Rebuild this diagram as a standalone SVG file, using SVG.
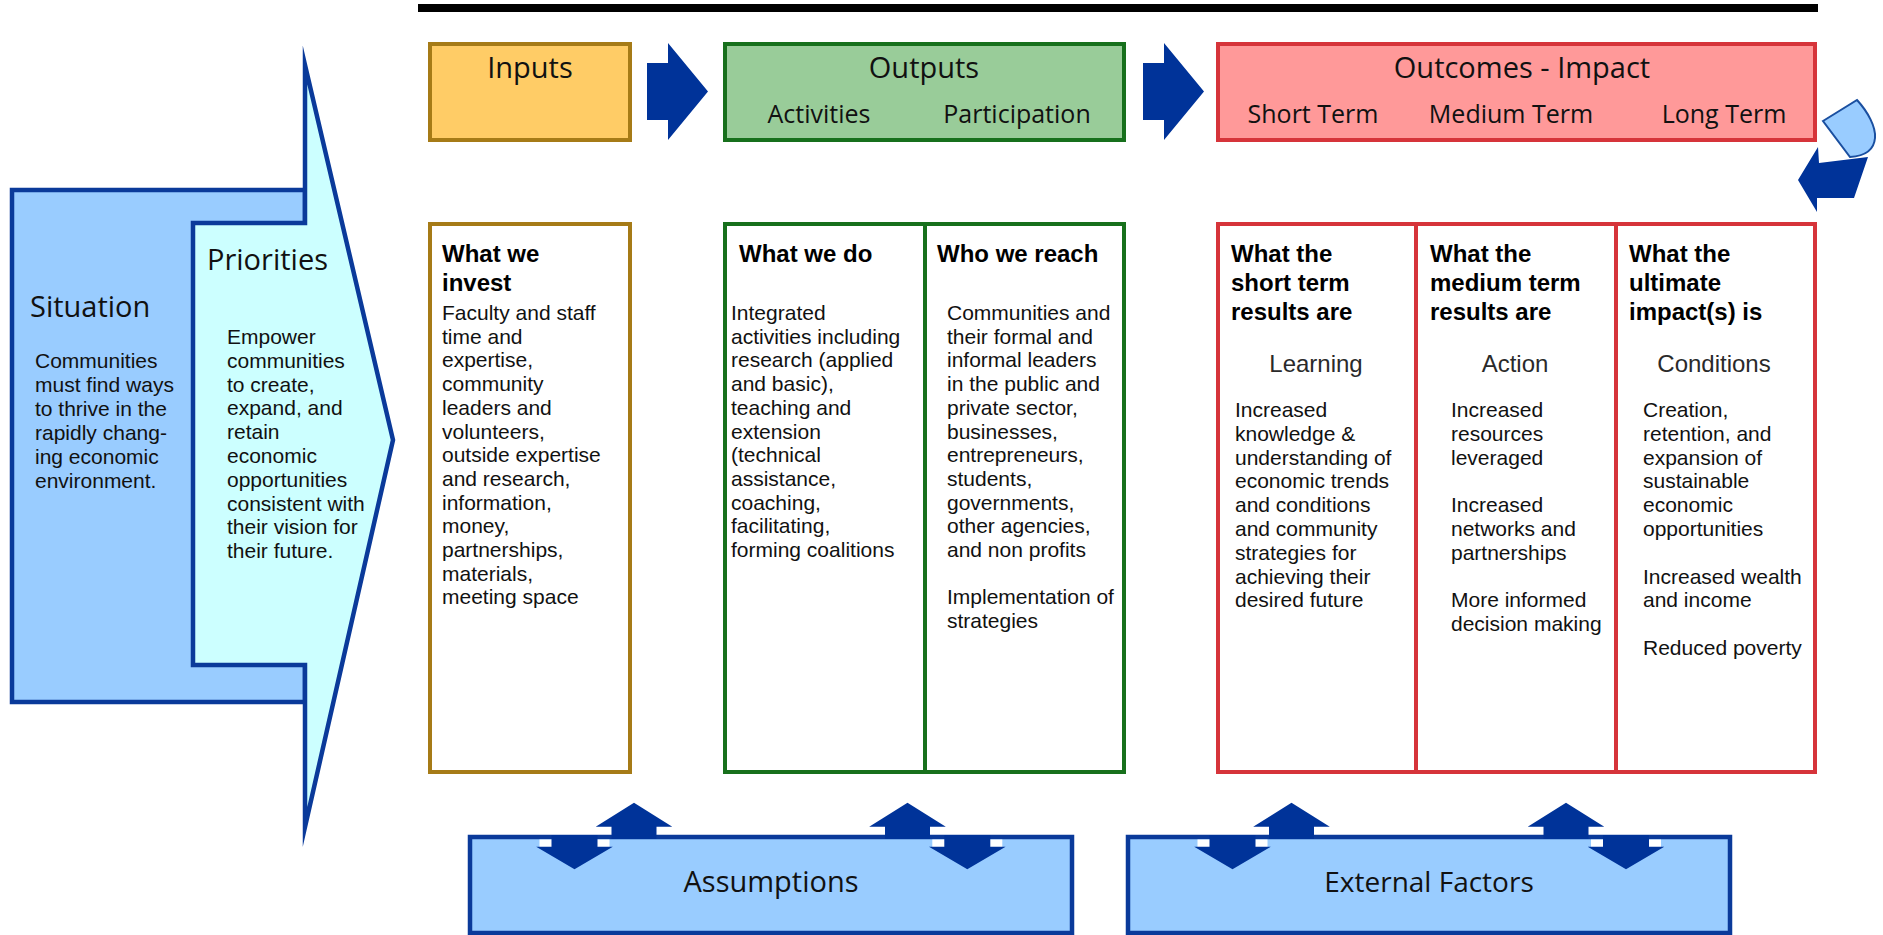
<svg xmlns="http://www.w3.org/2000/svg" width="1883" height="935" viewBox="0 0 1883 935">
<style>
.h{font-family:"Open Sans","Noto Sans",sans-serif;fill:#111}
.h29{font-size:29px}
.h25{font-size:25px}
.b{font-family:"Liberation Sans",Arial,sans-serif;font-size:21px;fill:#111}
.bh{font-family:"Liberation Sans",Arial,sans-serif;font-size:24px;font-weight:bold;fill:#000}
.sub{font-family:"Liberation Sans",Arial,sans-serif;font-size:24px;fill:#2a2a2a;text-anchor:middle}
.mid{text-anchor:middle}
.inp{fill:#FFCC66;stroke:#A67B17;stroke-width:4}
.out{fill:#99CC99;stroke:#17701C;stroke-width:4}
.res{fill:#FF9999;stroke:#D6343A;stroke-width:4}
.inpL{fill:#fff;stroke:#A67B17;stroke-width:4}
.outL{fill:#fff;stroke:#17701C;stroke-width:4}
.resL{fill:#fff;stroke:#D6343A;stroke-width:4}
.blue{fill:#99CCFF;stroke:#0A3A9A;stroke-width:4.5}
.cyan{fill:#CCFFFF;stroke:#0A3A9A;stroke-width:4.5;stroke-linejoin:miter;stroke-miterlimit:20}
.arr{fill:#003399}
</style>
<defs>
<path id="upA" d="M0,802.7 L38.3,826.7 L22.5,826.7 L22.5,839 L-22.5,839 L-22.5,826.7 L-38.3,826.7 Z"/>
<g id="downA">
<rect x="-35" y="839.5" width="70" height="7.5" fill="#fff"/>
<path d="M-23,835 L23,835 L23,846.7 L38.3,846.7 L0,869.3 L-38.3,846.7 L-23,846.7 Z"/>
</g>
<path id="rightA" d="M0,63 L21,63 L21,43 L61,91.5 L21,140 L21,120 L0,120 Z"/>
</defs>

<rect x="418" y="4" width="1400" height="8" fill="#000"/>

<g id="situation">
<rect class="blue" x="12" y="190" width="293" height="512"/>
<text class="h h29" x="30" y="317">Situation</text>
<text class="b" x="35" y="368">Communities<tspan x="35" dy="24">must find ways</tspan><tspan x="35" dy="24">to thrive in the</tspan><tspan x="35" dy="24">rapidly chang-</tspan><tspan x="35" dy="24">ing economic</tspan><tspan x="35" dy="24">environment.</tspan></text>
</g>

<g id="priorities">
<path class="cyan" d="M305,65 L393,440 L305,827 L305,665 L193,665 L193,223 L305,223 Z"/>
<text class="h h29" x="207" y="270">Priorities</text>
<text class="b" x="227" y="344">Empower<tspan x="227" dy="23.8">communities</tspan><tspan x="227" dy="23.8">to create,</tspan><tspan x="227" dy="23.8">expand, and</tspan><tspan x="227" dy="23.8">retain</tspan><tspan x="227" dy="23.8">economic</tspan><tspan x="227" dy="23.8">opportunities</tspan><tspan x="227" dy="23.8">consistent with</tspan><tspan x="227" dy="23.8">their vision for</tspan><tspan x="227" dy="23.8">their future.</tspan></text>
</g>

<g id="inputs-head">
<rect class="inp" x="430" y="44" width="200" height="96"/>
<text class="h h29 mid" x="530" y="78">Inputs</text>
</g>

<g id="outputs-head">
<rect class="out" x="725" y="44" width="399" height="96"/>
<text class="h h29 mid" x="924" y="78">Outputs</text>
<text class="h h25 mid" x="819" y="123">Activities</text>
<text class="h h25 mid" x="1017" y="123">Participation</text>
</g>

<g id="outcomes-head">
<rect class="res" x="1218" y="44" width="597" height="96"/>
<text class="h h29 mid" x="1522" y="78">Outcomes - Impact</text>
<text class="h h25 mid" x="1313" y="123">Short Term</text>
<text class="h h25 mid" x="1511" y="123">Medium Term</text>
<text class="h h25 mid" x="1724" y="123">Long Term</text>
</g>

<g id="inputs-body">
<rect class="inpL" x="430" y="224" width="200" height="548"/>
<text class="bh" x="442" y="262">What we<tspan x="442" dy="28.5">invest</tspan></text>
<text class="b" x="442" y="320">Faculty and staff<tspan x="442" dy="23.7">time and</tspan><tspan x="442" dy="23.7">expertise,</tspan><tspan x="442" dy="23.7">community</tspan><tspan x="442" dy="23.7">leaders and</tspan><tspan x="442" dy="23.7">volunteers,</tspan><tspan x="442" dy="23.7">outside expertise</tspan><tspan x="442" dy="23.7">and research,</tspan><tspan x="442" dy="23.7">information,</tspan><tspan x="442" dy="23.7">money,</tspan><tspan x="442" dy="23.7">partnerships,</tspan><tspan x="442" dy="23.7">materials,</tspan><tspan x="442" dy="23.7">meeting space</tspan></text>
</g>

<g id="outputs-body">
<rect class="outL" x="725" y="224" width="399" height="548"/>
<line x1="925" y1="224" x2="925" y2="772" stroke="#17701C" stroke-width="4"/>
<text class="bh" x="739" y="262">What we do</text>
<text class="b" x="731" y="320">Integrated<tspan x="731" dy="23.7">activities including</tspan><tspan x="731" dy="23.7">research (applied</tspan><tspan x="731" dy="23.7">and basic),</tspan><tspan x="731" dy="23.7">teaching and</tspan><tspan x="731" dy="23.7">extension</tspan><tspan x="731" dy="23.7">(technical</tspan><tspan x="731" dy="23.7">assistance,</tspan><tspan x="731" dy="23.7">coaching,</tspan><tspan x="731" dy="23.7">facilitating,</tspan><tspan x="731" dy="23.7">forming coalitions</tspan></text>
<text class="bh" x="937" y="262">Who we reach</text>
<text class="b" x="947" y="320">Communities and<tspan x="947" dy="23.7">their formal and</tspan><tspan x="947" dy="23.7">informal leaders</tspan><tspan x="947" dy="23.7">in the public and</tspan><tspan x="947" dy="23.7">private sector,</tspan><tspan x="947" dy="23.7">businesses,</tspan><tspan x="947" dy="23.7">entrepreneurs,</tspan><tspan x="947" dy="23.7">students,</tspan><tspan x="947" dy="23.7">governments,</tspan><tspan x="947" dy="23.7">other agencies,</tspan><tspan x="947" dy="23.7">and non profits</tspan><tspan x="947" dy="47.4">Implementation of</tspan><tspan x="947" dy="23.7">strategies</tspan></text>
</g>

<g id="outcomes-body">
<rect class="resL" x="1218" y="224" width="597" height="548"/>
<line x1="1416" y1="224" x2="1416" y2="772" stroke="#D6343A" stroke-width="4"/>
<line x1="1616" y1="224" x2="1616" y2="772" stroke="#D6343A" stroke-width="4"/>
<text class="bh" x="1231" y="262">What the<tspan x="1231" dy="28.8">short term</tspan><tspan x="1231" dy="28.8">results are</tspan></text>
<text class="sub" x="1316" y="372">Learning</text>
<text class="b" x="1235" y="417">Increased<tspan x="1235" dy="23.8">knowledge &amp;</tspan><tspan x="1235" dy="23.8">understanding of</tspan><tspan x="1235" dy="23.8">economic trends</tspan><tspan x="1235" dy="23.8">and conditions</tspan><tspan x="1235" dy="23.8">and community</tspan><tspan x="1235" dy="23.8">strategies for</tspan><tspan x="1235" dy="23.8">achieving their</tspan><tspan x="1235" dy="23.8">desired future</tspan></text>
<text class="bh" x="1430" y="262">What the<tspan x="1430" dy="28.8">medium term</tspan><tspan x="1430" dy="28.8">results are</tspan></text>
<text class="sub" x="1515" y="372">Action</text>
<text class="b" x="1451" y="417">Increased<tspan x="1451" dy="23.8">resources</tspan><tspan x="1451" dy="23.8">leveraged</tspan><tspan x="1451" dy="47.6">Increased</tspan><tspan x="1451" dy="23.8">networks and</tspan><tspan x="1451" dy="23.8">partnerships</tspan><tspan x="1451" dy="47.6">More informed</tspan><tspan x="1451" dy="23.8">decision making</tspan></text>
<text class="bh" x="1629" y="262">What the<tspan x="1629" dy="28.8">ultimate</tspan><tspan x="1629" dy="28.8">impact(s) is</tspan></text>
<text class="sub" x="1714" y="372">Conditions</text>
<text class="b" x="1643" y="417">Creation,<tspan x="1643" dy="23.8">retention, and</tspan><tspan x="1643" dy="23.8">expansion of</tspan><tspan x="1643" dy="23.8">sustainable</tspan><tspan x="1643" dy="23.8">economic</tspan><tspan x="1643" dy="23.8">opportunities</tspan><tspan x="1643" dy="47.6">Increased wealth</tspan><tspan x="1643" dy="23.8">and income</tspan><tspan x="1643" dy="47.6">Reduced poverty</tspan></text>
</g>

<g id="assumptions">
<rect class="blue" x="470" y="837" width="602" height="96"/>
<text class="h h29 mid" x="771" y="892">Assumptions</text>
</g>

<g id="external-factors">
<rect class="blue" x="1128" y="837" width="602" height="96"/>
<text class="h mid" style="font-size:28px" x="1429" y="892">External Factors</text>
</g>

<g id="connectors" class="arr">
<use href="#rightA" x="647"/>
<use href="#rightA" x="1143"/>
<path d="M1823,121 L1857,100 C1868,112 1876,127 1875,138 C1874,150 1866,156 1850,157 Z" fill="#99CCFF" stroke="#1A4FA0" stroke-width="2"/>
<path d="M1868,157 L1854,198 L1817,198 L1817,212 L1798,180 L1818,147 L1819,163 Z"/>
<use href="#downA" x="574.5"/>
<use href="#upA" x="634"/>
<use href="#upA" x="907.5"/>
<use href="#downA" x="967.3"/>
<use href="#downA" x="1232.5"/>
<use href="#upA" x="1291.5"/>
<use href="#upA" x="1566"/>
<use href="#downA" x="1626"/>
</g>
</svg>
